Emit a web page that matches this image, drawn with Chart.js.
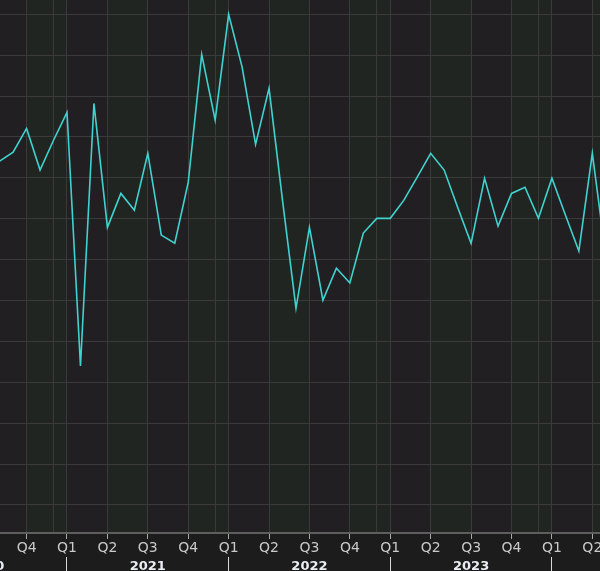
<!DOCTYPE html>
<html>
<head>
<meta charset="utf-8">
<script src="https://cdn.jsdelivr.net/npm/chart.js@4.4.1/dist/chart.umd.min.js"></script>
<style>
  html, body { margin: 0; padding: 0; background: #1d1c1d; overflow: hidden; }
  #wrap { width: 600px; height: 571px; }
</style>
</head>
<body>
<div id="wrap"><canvas id="c" width="600" height="571"></canvas></div>
<script>
// ---- data (monthly) ----
const months = [
  '2020-08','2020-09','2020-10','2020-11','2020-12',
  '2021-01','2021-02','2021-03','2021-04','2021-05','2021-06','2021-07','2021-08','2021-09','2021-10','2021-11','2021-12',
  '2022-01','2022-02','2022-03','2022-04','2022-05','2022-06','2022-07','2022-08','2022-09','2022-10','2022-11','2022-12',
  '2023-01','2023-02','2023-03','2023-04','2023-05','2023-06','2023-07','2023-08','2023-09','2023-10','2023-11','2023-12',
  '2024-01','2024-02','2024-03','2024-04','2024-05'
];
const values = [
  8.41, 8.63, 9.21, 8.19, 8.92,
  9.60, 3.40, 9.82, 6.79, 7.62, 7.21, 8.60, 6.60, 6.40, 7.89, 11.02, 9.41,
  12.00, 10.71, 8.82, 10.19, 7.45, 4.81, 6.79, 5.01, 5.79, 5.43, 6.65, 7.01,
  7.01, 7.45, 8.02, 8.60, 8.19, 7.28, 6.40, 7.99, 6.82, 7.62, 7.77, 7.01,
  7.99, 7.09, 6.21, 8.60, 6.09
];
const quarterNames = ['Q1', 'Q2', 'Q3', 'Q4'];
const yearLabels = ['2020', '2021', '2022', '2023', '2024'];

// ---- helpers ----
const BASE_YEAR = 2021;
function monthIndex(s) {
  const [y, m] = s.split('-').map(Number);
  return (y - BASE_YEAR) * 12 + (m - 1);
}
const mod12 = v => ((v % 12) + 12) % 12;

const firstIdx = monthIndex(months[0]);
const lastIdx = monthIndex(months[months.length - 1]);

// quarter boundaries + December guide lines
const quarterTicks = [];
for (let m = firstIdx - 3; m <= lastIdx + 3; m++) {
  if (mod12(m) % 3 === 0 || mod12(m) === 11) quarterTicks.push(m);
}
// year centres (labels) + year boundaries (separators)
const yearTicks = [];
yearLabels.forEach(y => {
  const start = (Number(y) - BASE_YEAR) * 12;
  yearTicks.push(start);
  yearTicks.push(start + 6);
});
yearTicks.sort((a, b) => a - b);

const X_MIN = -4.974, X_MAX = 39.57;
const Y_MIN = -0.685, Y_MAX = 12.35;

const points = months.map((mo, i) => ({ x: monthIndex(mo), y: values[i] }));

const bandsPlugin = {
  id: 'bands',
  beforeDraw(chart) {
    const { ctx, chartArea: a, scales: { x } } = chart;
    ctx.save();
    ctx.fillStyle = '#1d1c1d';
    ctx.fillRect(0, 0, chart.width, chart.height);
    ctx.fillStyle = '#211f21';
    ctx.fillRect(a.left, a.top, a.width, a.height);
    ctx.beginPath();
    ctx.rect(a.left, a.top, a.width, a.height);
    ctx.clip();
    ctx.fillStyle = '#212521';
    quarterTicks.forEach(q => {
      const qi = mod12(q);
      if (qi === 3 || qi === 9) {
        const x0 = x.getPixelForValue(q);
        const x1 = x.getPixelForValue(q + 3);
        ctx.fillRect(x0, a.top, x1 - x0, a.height);
      }
    });
    ctx.restore();
  }
};

new Chart(document.getElementById('c'), {
  type: 'line',
  data: {
    datasets: [{
      data: points,
      borderColor: '#3fd3d0',
      borderWidth: 1.6,
      pointRadius: 0,
      tension: 0,
      fill: false
    }]
  },
  options: {
    responsive: false,
    animation: false,
    layout: { padding: 0 },
    plugins: { legend: { display: false }, tooltip: { enabled: false } },
    scales: {
      x: {
        type: 'linear',
        position: 'bottom',
        weight: 1,
        min: X_MIN,
        max: X_MAX,
        afterBuildTicks: s => { s.ticks = quarterTicks.map(v => ({ value: v })); },
        afterFit: s => { s.paddingLeft = 0; s.paddingRight = 0; s.height = 24; },
        ticks: {
          autoSkip: false,
          maxRotation: 0,
          minRotation: 0,
          color: '#c9c9c9',
          padding: 1,
          font: { family: 'DejaVu Sans', size: 14 },
          callback: v => (mod12(v) % 3 === 0 ? quarterNames[mod12(v) / 3] : '')
        },
        grid: {
          color: '#3b3a3b',
          lineWidth: 1,
          drawTicks: true,
          tickLength: 6,
          tickColor: c => (c.tick && mod12(c.tick.value) % 3 === 0 ? '#a8a8a8' : 'rgba(0,0,0,0)')
        },
        border: { display: true, color: '#5e5e5e', width: 2 }
      },
      x2: {
        type: 'linear',
        position: 'bottom',
        weight: 2,
        min: X_MIN,
        max: X_MAX,
        afterBuildTicks: s => { s.ticks = yearTicks.map(v => ({ value: v })); },
        afterFit: s => { s.paddingLeft = 0; s.paddingRight = 0; s.height = 14; },
        ticks: {
          autoSkip: false,
          maxRotation: 0,
          minRotation: 0,
          color: '#e8eef4',
          padding: -12,
          font: { family: 'DejaVu Sans', size: 13, weight: 'bold' },
          callback: v => (mod12(v) === 6 ? String(BASE_YEAR + Math.floor(v / 12)) : '')
        },
        grid: {
          drawOnChartArea: false,
          drawTicks: true,
          tickLength: 14,
          lineWidth: 1,
          tickColor: c => (c.tick && mod12(c.tick.value) === 0 ? '#d8d8d8' : 'rgba(0,0,0,0)')
        },
        border: { display: false }
      },
      y: {
        type: 'linear',
        min: Y_MIN,
        max: Y_MAX,
        afterFit: s => { s.width = 0; },
        ticks: { display: false, stepSize: 1, includeBounds: false },
        grid: { color: '#3b3a3b', lineWidth: 1, drawTicks: false },
        border: { display: false }
      }
    }
  },
  plugins: [bandsPlugin]
});
</script>
</body>
</html>
